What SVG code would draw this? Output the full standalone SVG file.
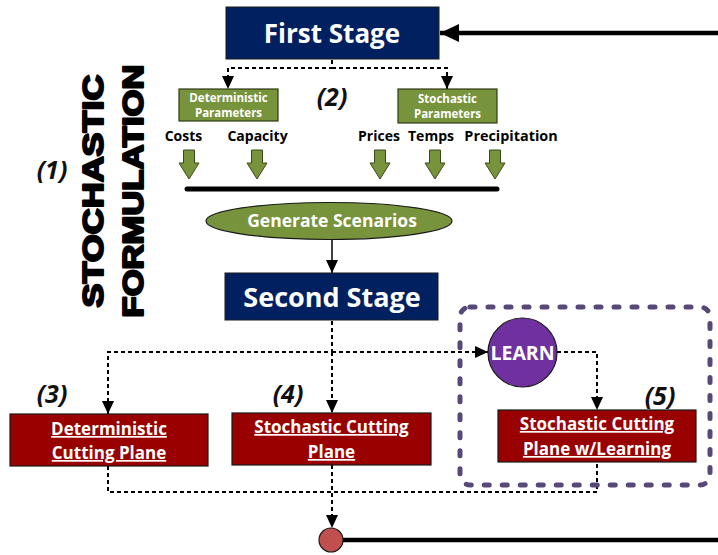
<svg xmlns="http://www.w3.org/2000/svg" width="718" height="555" viewBox="0 0 718 555">
  <style>
    .lbl { font-family: "Open Sans", "Liberation Sans", sans-serif; font-weight: 700; text-anchor: middle; }
    .wh { fill: #ffffff; }
    .num { font-family: "Open Sans", "Liberation Sans", sans-serif; font-weight: 700; font-style: italic; font-size: 25px; text-anchor: middle; fill: #111111; }
    .title { font-family: "Liberation Sans", Arial, sans-serif; font-weight: 900; font-size: 29px; text-anchor: middle; fill: #000000; stroke: #000000; stroke-width: 2px; stroke-linejoin: round; }
    .stage { fill: #002060; stroke: #1a1a1a; stroke-width: 1; }
    .param { fill: #77933c; stroke: #2e3a16; stroke-width: 1.2; }
    .cut { fill: #990000; stroke: #1a1a1a; stroke-width: 1.2; }
    .garrow { fill: #77933c; stroke: #3b4a1c; stroke-width: 1; }
    .dash { fill: none; stroke: #000000; stroke-width: 2; stroke-dasharray: 4 3; }
    .solid { fill: none; stroke: #000000; }
  </style>
  <defs>
    <marker id="ah" viewBox="0 0 13 12" refX="13" refY="6" markerWidth="13" markerHeight="12" markerUnits="userSpaceOnUse" orient="auto">
      <path d="M0,0 L13,6 L0,12 z" fill="#000000"/>
    </marker>
    <marker id="ahBig" viewBox="0 0 19 18" refX="19" refY="9" markerWidth="19" markerHeight="18" markerUnits="userSpaceOnUse" orient="auto">
      <path d="M0,0 L19,9 L0,18 z" fill="#000000"/>
    </marker>
  </defs>

  <!-- side title -->
  <g id="title">
    <text class="title" transform="translate(103,191) rotate(-90)" textLength="233" lengthAdjust="spacingAndGlyphs">STOCHASTIC</text>
    <text class="title" transform="translate(143,191) rotate(-90)" textLength="253" lengthAdjust="spacingAndGlyphs">FORMULATION</text>
    <text class="num" x="52" y="179">(1)</text>
  </g>

  <!-- connectors -->
  <g id="connectors">
    <line x1="718" y1="33" x2="440" y2="33" stroke="#000" stroke-width="4.5" marker-end="url(#ahBig)"/>
    <path class="dash" d="M332,60 V68 H228 V89" marker-end="url(#ah)"/>
    <path class="dash" d="M332,68 H447 V89" marker-end="url(#ah)"/>
    <line x1="187" y1="189" x2="497" y2="189" stroke="#000" stroke-width="5" stroke-linecap="round"/>
    <line class="solid" x1="332" y1="240" x2="332" y2="273" stroke-width="1.5" marker-end="url(#ah)"/>
    <path class="dash" d="M332,321 V352 H108 V414" marker-end="url(#ah)"/>
    <path class="dash" d="M332,352 V413" marker-end="url(#ah)"/>
    <path class="dash" d="M332,352 H488" marker-end="url(#ah)"/>
    <path class="dash" d="M557,352 H597 V410" marker-end="url(#ah)"/>
    <path class="dash" d="M108,466 V492 H597 V462"/>
    <path class="dash" d="M332,465 V528" marker-end="url(#ah)"/>
    <line x1="343" y1="540" x2="718" y2="540" stroke="#000" stroke-width="4.5"/>
  </g>

  <!-- input arrows -->
  <g id="inputArrows">
    <polygon class="garrow" points="183.5,150 194.5,150 194.5,163 199,163 189,179 179,163 183.5,163"/>
    <polygon class="garrow" points="251.5,150 262.5,150 262.5,163 267,163 257,179 247,163 251.5,163"/>
    <polygon class="garrow" points="374.5,150 385.5,150 385.5,163 390,163 380,179 370,163 374.5,163"/>
    <polygon class="garrow" points="429.5,150 440.5,150 440.5,163 445,163 435,179 425,163 429.5,163"/>
    <polygon class="garrow" points="489.5,150 500.5,150 500.5,163 505,163 495,179 485,163 489.5,163"/>
  </g>

  <g id="firstStage">
    <rect class="stage" x="226" y="7" width="213" height="52"/>
    <text class="lbl wh" x="332" y="43" font-size="26">First Stage</text>
  </g>

  <g id="detParams">
    <rect class="param" x="179" y="89" width="99" height="32"/>
    <text class="lbl wh" x="228.5" y="102" font-size="11.5">Deterministic</text>
    <text class="lbl wh" x="228.5" y="117" font-size="11.5">Parameters</text>
  </g>

  <g id="stoParams">
    <rect class="param" x="398" y="89" width="99" height="34"/>
    <text class="lbl wh" x="447.5" y="103" font-size="11.5">Stochastic</text>
    <text class="lbl wh" x="447.5" y="118" font-size="11.5">Parameters</text>
  </g>

  <text class="num" x="332" y="106">(2)</text>

  <g id="inputLabels">
    <text class="lbl" x="183.5" y="141" font-size="14">Costs</text>
    <text class="lbl" x="257.5" y="141" font-size="14">Capacity</text>
    <text class="lbl" x="379" y="141" font-size="14">Prices</text>
    <text class="lbl" x="431" y="141" font-size="14">Temps</text>
    <text class="lbl" x="511" y="141" font-size="14.4">Precipitation</text>
  </g>

  <g id="generateScenarios">
    <ellipse cx="329" cy="221" rx="123" ry="18.5" fill="#77933c" stroke="#1a1a1a" stroke-width="1.2"/>
    <text class="lbl wh" x="332" y="227" font-size="17.5">Generate Scenarios</text>
  </g>

  <g id="secondStage">
    <rect class="stage" x="225" y="273" width="213" height="47"/>
    <text class="lbl wh" x="332" y="307" font-size="27">Second Stage</text>
  </g>

  <!-- learning region -->
  <rect id="learningRegion" x="460" y="307" width="250" height="178" rx="10" fill="none" stroke="#584878" stroke-width="5" stroke-dasharray="5 13" stroke-linecap="round"/>

  <g id="learn">
    <circle cx="522.5" cy="352.5" r="34.5" fill="#7030a0" stroke="#1a1a1a" stroke-width="1.2"/>
    <text class="lbl wh" x="522.5" y="359.5" font-size="19.5">LEARN</text>
  </g>

  <g id="detCutting">
    <rect class="cut" x="10" y="414" width="198" height="52"/>
    <text class="lbl wh" x="109" y="435" font-size="17" text-decoration="underline">Deterministic</text>
    <text class="lbl wh" x="109" y="459" font-size="17" text-decoration="underline">Cutting Plane</text>
    <text class="num" x="52" y="403">(3)</text>
  </g>

  <g id="stoCutting">
    <rect class="cut" x="232" y="413" width="199" height="52"/>
    <text class="lbl wh" x="331.5" y="433" font-size="17" text-decoration="underline">Stochastic Cutting</text>
    <text class="lbl wh" x="331.5" y="458" font-size="17" text-decoration="underline">Plane</text>
    <text class="num" x="288" y="403">(4)</text>
  </g>

  <g id="stoCuttingLearning">
    <rect class="cut" x="498" y="410" width="198" height="52"/>
    <text class="lbl wh" x="597" y="430" font-size="17" text-decoration="underline">Stochastic Cutting</text>
    <text class="lbl wh" x="597" y="455" font-size="17" text-decoration="underline">Plane w/Learning</text>
    <text class="num" x="660" y="405">(5)</text>
  </g>

  <g id="merge">
    <circle cx="331" cy="540" r="12" fill="#c0504d" stroke="#1a1a1a" stroke-width="1.2"/>
  </g>
</svg>
